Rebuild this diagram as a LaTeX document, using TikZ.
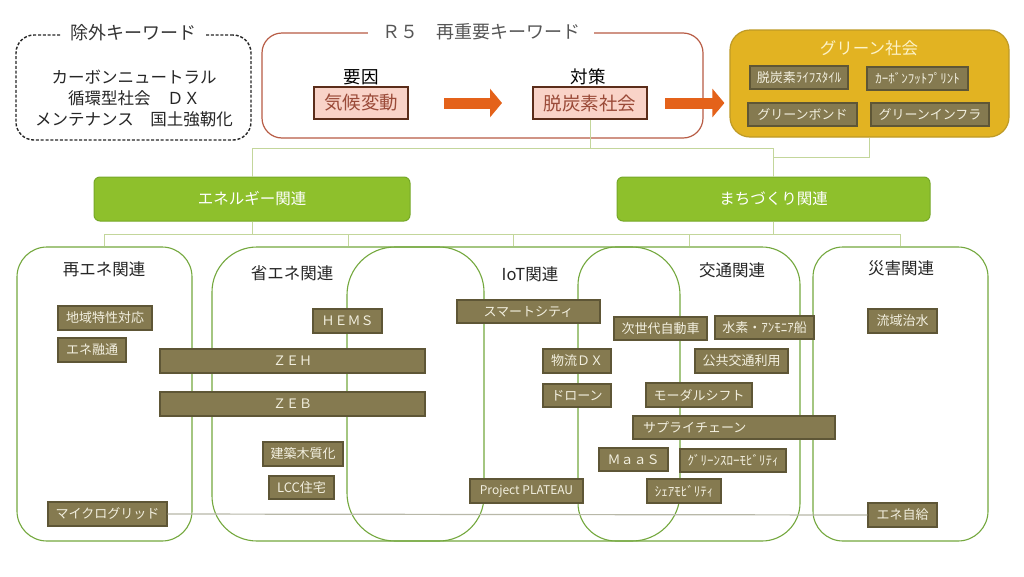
\documentclass[tikz,border=0pt]{standalone}
\usepackage{fontspec}
\setmainfont{Noto Sans CJK JP}
\usetikzlibrary{arrows.meta}
\definecolor{itemfill}{HTML}{857A50}
\definecolor{itemline}{HTML}{5E5636}
\definecolor{itemtext}{HTML}{F3F0E0}
\definecolor{grpline}{HTML}{74A83E}
\definecolor{hdrfill}{HTML}{8EC02C}
\definecolor{hdrline}{HTML}{76A828}
\definecolor{goldfill}{HTML}{E2B322}
\definecolor{goldline}{HTML}{BE9A26}
\definecolor{goldtext}{HTML}{FDF3C8}
\definecolor{treeline}{HTML}{C3D69B}
\definecolor{grayline}{HTML}{B8B8A8}
\definecolor{keyline}{HTML}{B85C45}
\definecolor{pinkfill}{HTML}{F9D3C8}
\definecolor{pinkline}{HTML}{5B2D1A}
\definecolor{pinktext}{HTML}{9A4A38}
\definecolor{arrowc}{HTML}{E4621A}
\definecolor{titlegray}{HTML}{555555}
\newcommand\KB[7]{\node[#1, minimum width={(#5-#3)*1pt}, minimum height={(#6-#4)*1pt}] (#2) at ({(#3+#5)/2},{(#4+#6)/2}) {#7};}
\begin{document}
\begin{tikzpicture}[x=1pt,y=-1pt,
  item/.style={draw=itemline, fill=itemfill, line width=1.2pt, text=itemtext, font=\fontsize{13}{15}\selectfont, inner sep=0pt},
  goldbox/.style={item, font=\fontsize{13}{15}\selectfont},
  grp/.style={draw=grpline, line width=1.1pt, inner sep=0pt},
  gtitle/.style={text=black!85, font=\fontsize{16.5}{18}\selectfont, inner sep=0pt},
  hdr/.style={draw=hdrline, fill=hdrfill, line width=1pt, rounded corners=6pt, text=white, font=\fontsize{15.5}{17}\selectfont, inner sep=0pt},
  pinkbox/.style={draw=pinkline, fill=pinkfill, line width=2pt, text=pinktext, font=\fontsize{18.5}{20}\selectfont, inner sep=0pt},
  tree/.style={draw=treeline, line width=1pt},
  bigarrow/.style={draw=arrowc, line width=11pt, -{Triangle[length=12pt,width=28pt]}},
]
\useasboundingbox[fill=white] (0,0) rectangle (1024,576);

% ---- top left: excluded keywords
\KB{draw=black!85, dashed, dash pattern=on 3pt off 1.8pt, line width=1.4pt, rounded corners=18pt, inner sep=0pt}{excl}{16}{35}{251}{140}{}
\node[fill=white, inner xsep=9pt, inner ysep=1pt, text=black!80, font=\fontsize{18}{20}\selectfont] (exclt) at (133,33) {除外キーワード};
\node[align=center, text=black!85, font=\fontsize{16.5}{21}\selectfont, inner sep=0pt] (excltxt) at (134,98) {カーボンニュートラル\\循環型社会　ＤＸ\\メンテナンス　国土強靭化};

% ---- top middle: R5 keywords
\KB{draw=keyline, line width=1.2pt, rounded corners=20pt, inner sep=0pt}{key}{262}{33}{703}{138}{}
\node[fill=white, inner xsep=14pt, inner ysep=1pt, text=titlegray, font=\fontsize{18}{20}\selectfont] (keyt) at (481,32) {Ｒ５　再重要キーワード};
\node[font=\fontsize{17.5}{19}\selectfont, inner sep=0pt] (youin) at (361,77) {要因};
\node[font=\fontsize{17.5}{19}\selectfont, inner sep=0pt] (taisaku) at (588,77) {対策};
\KB{pinkbox}{kikou}{314}{87}{408}{119}{気候変動}
\KB{pinkbox}{datsu}{533}{87}{647}{119}{脱炭素社会}

% ---- top right: green society
\KB{draw=goldline, fill=goldfill, line width=1.2pt, rounded corners=20pt, inner sep=0pt}{green}{730}{30}{1009}{137}{}
\node[text=goldtext, font=\fontsize{16.5}{18}\selectfont, inner sep=0pt] (greent) at (869,48) {グリーン社会};
\KB{goldbox}{life}{750}{66}{848}{89}{脱炭素ﾗｲﾌｽﾀｲﾙ}
\KB{goldbox}{cfp}{867}{67}{968}{90}{ｶｰﾎﾞﾝﾌｯﾄﾌﾟﾘﾝﾄ}
\KB{goldbox}{gbond}{748}{103}{857}{126}{グリーンボンド}
\KB{goldbox}{ginfra}{871}{103}{989}{126}{グリーンインフラ}

% ---- arrows
\draw[bigarrow] ([xshift=35pt]kikou.east) -- ([xshift=-30pt]datsu.west);
\draw[bigarrow] ([xshift=17pt]datsu.east) -- ([xshift=-5pt]datsu.east -| green.west);

% ---- headers
\KB{hdr}{ene}{94}{177}{410}{221}{エネルギー関連}
\KB{hdr}{machi}{617}{177}{930}{221}{まちづくり関連}

% ---- group boxes
\KB{grp, rounded corners=30pt}{saiene}{17}{247}{192}{541}{}
\KB{grp, rounded corners=45pt}{shoene}{212}{247}{484}{541}{}
\KB{grp, rounded corners=48pt}{iot}{347}{247}{680}{541}{}
\KB{grp, rounded corners=38pt}{kotsu}{578}{247}{800}{541}{}
\KB{grp, rounded corners=30pt}{saigai}{813}{247}{988}{541}{}
\node[gtitle] (tsaiene) at (104,269) {再エネ関連};
\node[gtitle] (tshoene) at (292,273) {省エネ関連};
\node[gtitle] (tiot) at (530,274) {IoT関連};
\node[gtitle] (tkotsu) at (732,270) {交通関連};
\node[gtitle] (tsaigai) at (901,268) {災害関連};

% ---- tree connectors
\coordinate (h1) at (0,148);
\coordinate (h2) at (0,157);
\coordinate (h3) at (0,234);
\draw[tree] (datsu.south) -- (datsu.south |- h1);
\draw[tree] (ene.north) -- (ene.north |- h1) -- (machi.north |- h1) -- (machi.north);
\draw[tree] (green.south) -- (green.south |- h2) -- (machi.north |- h2);
\draw[tree] (ene.south) -- (ene.south |- h3);
\draw[tree] (saiene.north) -- (saiene.north |- h3) -- (iot.north |- h3) -- (iot.north);
\draw[tree] (shoene.north) -- (shoene.north |- h3);
\draw[tree] (machi.south) -- (machi.south |- h3);
\draw[tree] (iot.north |- h3) -- (saigai.north |- h3) -- (saigai.north);
\draw[tree] (kotsu.north) -- (kotsu.north |- h3);

% ---- items
\KB{item}{chiiki}{58}{306}{152}{330}{地域特性対応}
\KB{item}{yuzu}{58}{338}{126}{362}{エネ融通}
\KB{item}{micro}{48}{502}{167}{526}{マイクログリッド}
\KB{item}{jikyu}{868}{503}{937}{527}{エネ自給}
\draw[draw=grayline, line width=1.2pt] (micro.east) -- (jikyu.west);

\KB{item}{hems}{313}{309}{382}{333}{ＨＥＭＳ}
\KB{item}{zeh}{160}{349}{425}{373}{ＺＥＨ}
\KB{item}{zeb}{160}{392}{425}{416}{ＺＥＢ}
\KB{item}{mokushitsu}{263}{442}{343}{466}{建築木質化}
\KB{item}{lcc}{269}{476}{334}{499}{LCC住宅}

\KB{item}{smart}{457}{300}{600}{323}{スマートシティ}
\KB{item}{butsuryu}{543}{349}{611}{373}{物流ＤＸ}
\KB{item}{drone}{543}{384}{611}{407}{ドローン}
\KB{item, font=\fontsize{12}{14}\selectfont}{plateau}{470}{479}{583}{503}{Project PLATEAU}

\KB{item}{jisedai}{614}{317}{707}{340}{次世代自動車}
\KB{item}{suiso}{715}{316}{814}{339}{水素・ｱﾝﾓﾆｱ船}
\KB{item}{koukyo}{695}{349}{788}{373}{公共交通利用}
\KB{item}{modal}{646}{383}{752}{407}{モーダルシフト}
\KB{item}{supply}{633}{416}{835}{439}{\makebox[200pt][l]{\hspace{9pt}サプライチェーン}}
\KB{item}{maas}{599}{448}{668}{471}{ＭａａＳ}
\KB{item}{gslow}{680}{449}{786}{472}{ｸﾞﾘｰﾝｽﾛｰﾓﾋﾞﾘﾃｨ}
\KB{item}{share}{647}{479}{721}{503}{ｼｪｱﾓﾋﾞﾘﾃｨ}

\KB{item}{ryuiki}{868}{309}{937}{333}{流域治水}
\end{tikzpicture}
\end{document}
